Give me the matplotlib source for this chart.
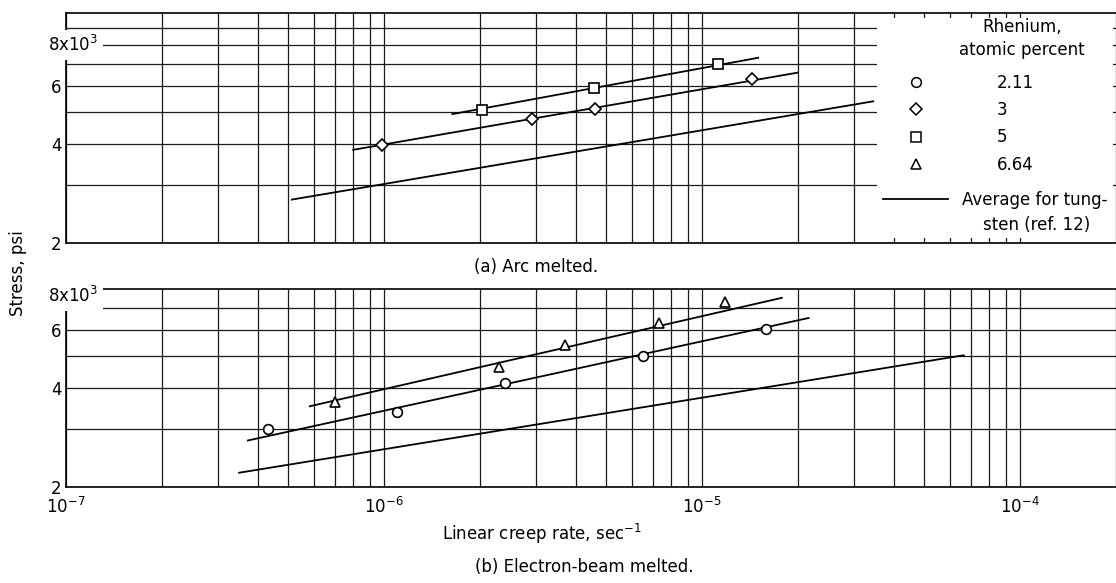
import numpy as np
import matplotlib
matplotlib.use("Agg")
import matplotlib.pyplot as plt
import matplotlib.transforms as mtransforms
from matplotlib.lines import Line2D
from matplotlib.patches import Rectangle
from matplotlib.ticker import FixedLocator, LogLocator, NullFormatter

plt.rcParams['font.family'] = ['DejaVu Sans']
plt.rcParams['font.size'] = 12

# (a) Arc melted -- rhenium 3 and 5 atomic percent
arc_re3_rate = [9.85e-7, 2.91e-6, 4.62e-6, 1.43e-5]
arc_re3_stress = [3975, 4760, 5100, 6280]
arc_re5_rate = [2.03e-6, 4.57e-6, 1.12e-5]
arc_re5_stress = [5070, 5900, 7020]
arc_re3_fit_rate = [8.0e-7, 2.0e-5]
arc_re3_fit_stress = [3840, 6590]
arc_re5_fit_rate = [1.64e-6, 1.50e-5]
arc_re5_fit_stress = [4930, 7310]
arc_w_rate = [5.13e-7, 3.45e-5]
arc_w_stress = [2710, 5390]

# (b) Electron-beam melted -- rhenium 2.11 and 6.64 atomic percent
eb_re211_rate = [4.31e-7, 1.10e-6, 2.40e-6, 6.53e-6, 1.59e-5]
eb_re211_stress = [3010, 3375, 4140, 5010, 6040]
eb_re664_rate = [7.03e-7, 2.30e-6, 3.70e-6, 7.34e-6, 1.18e-5]
eb_re664_stress = [3620, 4630, 5400, 6290, 7320]
eb_re211_fit_rate = [3.73e-7, 2.16e-5]
eb_re211_fit_stress = [2770, 6530]
eb_re664_fit_rate = [5.84e-7, 1.78e-5]
eb_re664_fit_stress = [3520, 7520]
eb_w_rate = [3.50e-7, 6.64e-5]
eb_w_stress = [2210, 5030]

rhenium_labels = ['2.11', '3', '5', '6.64']
rhenium_markers = ['o', 'D', 's', '^']
marker_sizes = {'o': 7, 'D': 6, 's': 6.5, '^': 6.5}

W, H = 1116, 583
fig = plt.figure(figsize=(W / 100, H / 100), dpi=100)
ax_a = fig.add_axes([66 / W, 1 - 243 / H, 1050 / W, 230 / H])
ax_b = fig.add_axes([66 / W, 1 - 487 / H, 1050 / W, 198 / H])


def setup(ax, ytop):
    ax.set_xscale('log')
    ax.set_yscale('log')
    ax.set_xlim(1e-7, 2e-4)
    ax.set_ylim(2000, ytop)
    ax.xaxis.set_major_locator(FixedLocator([1e-7, 1e-6, 1e-5, 1e-4]))
    ax.xaxis.set_minor_locator(LogLocator(base=10, subs=np.arange(2, 10)))
    ax.xaxis.set_minor_formatter(NullFormatter())
    ax.set_yticks([2000, 4000, 6000], labels=['2', '4', '6'])
    ax.set_yticks([v for v in [3000, 5000, 7000, 8000, 9000] if v < ytop], minor=True)
    ax.yaxis.set_minor_formatter(NullFormatter())
    ax.grid(which='both', color='#1a1a1a', lw=0.9)
    ax.tick_params(which='both', length=0)
    ax.tick_params(axis='y', pad=3)
    ax.tick_params(axis='x', pad=7)
    ax.spines['right'].set_visible(False)
    for s in ['left', 'top', 'bottom']:
        ax.spines[s].set_linewidth(1.2)
    trans = mtransforms.blended_transform_factory(ax.transAxes, ax.transData)
    return trans


def draw_points(ax, x, y, m):
    ax.plot(x, y, ls='none', marker=m, ms=marker_sizes[m], mfc='white',
            mec='black', mew=1.2, zorder=4)


trans_a = setup(ax_a, 10000)
trans_b = setup(ax_b, 8000)
ax_a.xaxis.set_major_formatter(NullFormatter())

# panel (a)
ax_a.plot(arc_w_rate, arc_w_stress, color='black', lw=1.3)
ax_a.plot(arc_re3_fit_rate, arc_re3_fit_stress, color='black', lw=1.3)
ax_a.plot(arc_re5_fit_rate, arc_re5_fit_stress, color='black', lw=1.3)
draw_points(ax_a, arc_re3_rate, arc_re3_stress, 'D')
draw_points(ax_a, arc_re5_rate, arc_re5_stress, 's')

# panel (b)
ax_b.plot(eb_w_rate, eb_w_stress, color='black', lw=1.3)
ax_b.plot(eb_re211_fit_rate, eb_re211_fit_stress, color='black', lw=1.3)
ax_b.plot(eb_re664_fit_rate, eb_re664_fit_stress, color='black', lw=1.3)
draw_points(ax_b, eb_re211_rate, eb_re211_stress, 'o')
draw_points(ax_b, eb_re664_rate, eb_re664_stress, '^')

# 8x10^3 labels sit over the frame on a white patch
ax_a.text(32 / 1050, 8000, '8x10$^3$', transform=trans_a, ha='right', va='center',
          zorder=6, bbox=dict(fc='white', ec='none', boxstyle='square,pad=0.3'))
off_b = mtransforms.offset_copy(trans_b, fig=fig, y=-7, units='dots')
ax_b.text(32 / 1050, 8000, '8x10$^3$', transform=off_b, ha='right', va='center',
          zorder=6, bbox=dict(fc='white', ec='none', boxstyle='square,pad=0.3'))

# legend panel (white block over the grid)
ax_a.add_patch(Rectangle(((877 - 66) / 1050, 5 / 230), (1113 - 877) / 1050, 220 / 230,
                         transform=ax_a.transAxes, fc='white', ec='none', zorder=2.2))
ax_a.text((1022 - 66) / 1050, 1 - (38.5 - 13) / 230, 'Rhenium,\natomic percent',
          transform=ax_a.transAxes, ha='center', va='center', multialignment='center',
          linespacing=1.3, zorder=5)

fs = 12 * 100 / 72
handles = [Line2D([], [], ls='none', marker=m, ms=marker_sizes[m], mfc='white',
                  mec='black', mew=1.1) for m in rhenium_markers]
leg1 = ax_a.legend(handles, rhenium_labels, loc='upper left',
                   bbox_to_anchor=((883 - 66) / 1050, 1 - (74 - 13) / 230),
                   frameon=False, borderpad=0, borderaxespad=0,
                   handlelength=65 / fs, handletextpad=(997 - 948) / fs,
                   labelspacing=0.55)
leg1.set_zorder(5)
ax_a.add_artist(leg1)
leg2 = ax_a.legend([Line2D([], [], color='black', lw=1.3)], ['Average for tung-'],
                   loc='upper left',
                   bbox_to_anchor=((883 - 66) / 1050, 1 - (191 - 13) / 230),
                   frameon=False, borderpad=0, borderaxespad=0,
                   handlelength=65 / fs, handletextpad=(962 - 948) / fs)
leg2.set_zorder(5)
ax_a.text((1037 - 66) / 1050, 1 - (225 - 13) / 230, 'sten (ref. 12)',
          transform=ax_a.transAxes, ha='center', va='center', zorder=5)

# captions and axis titles
fig.text(18 / W, 1 - 273 / H, 'Stress, psi', rotation=90, ha='center', va='center')
fig.text(536 / W, 1 - 267 / H, '(a) Arc melted.', ha='center', va='center')
fig.text(542 / W, 1 - 534 / H, 'Linear creep rate, sec$^{-1}$', ha='center', va='center')
fig.text(584 / W, 1 - 567 / H, '(b) Electron-beam melted.', ha='center', va='center')

fig.savefig('out.png', dpi=100)
